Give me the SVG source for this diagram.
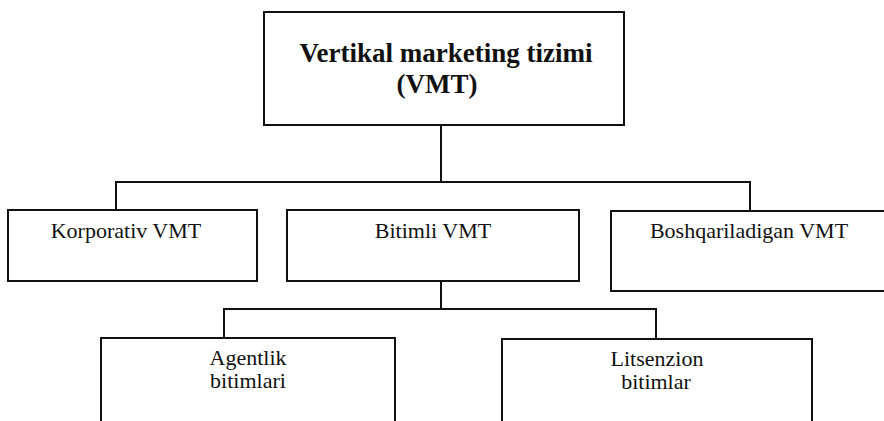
<svg xmlns="http://www.w3.org/2000/svg" width="884" height="421" viewBox="0 0 884 421">
<style>
.box{fill:#fff;stroke:#111;stroke-width:2}
.ln{fill:none;stroke:#111;stroke-width:2}
.t{font-family:"Liberation Serif","Times New Roman",serif;font-size:22px;fill:#111;text-anchor:middle}
.h{font-family:"Liberation Serif","Times New Roman",serif;font-size:27px;font-weight:bold;fill:#111;text-anchor:middle}
</style>
<rect width="884" height="421" fill="#fff"/>
<g id="connectors">
<path class="ln" d="M441 125 V182 M116 210 V182 H750 V211"/>
<path class="ln" d="M441 281 V309 M224 338 V309 H656 V339"/>
</g>
<g id="vmt">
<rect class="box" x="264" y="12" width="360" height="113"/>
<text class="h" x="446" y="62">Vertikal marketing tizimi</text>
<text class="h" x="437" y="93">(VMT)</text>
</g>
<g id="korporativ">
<rect class="box" x="8" y="210" width="249" height="71"/>
<text class="t" x="126" y="238">Korporativ VMT</text>
</g>
<g id="bitimli">
<rect class="box" x="287" y="210" width="292" height="71"/>
<text class="t" x="433" y="238">Bitimli VMT</text>
</g>
<g id="boshqariladigan">
<rect class="box" x="611" y="211" width="290" height="80"/>
<text class="t" x="749" y="238">Boshqariladigan VMT</text>
</g>
<g id="agentlik">
<rect class="box" x="101" y="338" width="294" height="100"/>
<text class="t" x="248" y="365">Agentlik</text>
<text class="t" x="248" y="388">bitimlari</text>
</g>
<g id="litsenzion">
<rect class="box" x="502" y="339" width="310" height="100"/>
<text class="t" x="657" y="366">Litsenzion</text>
<text class="t" x="656" y="389">bitimlar</text>
</g>
</svg>
